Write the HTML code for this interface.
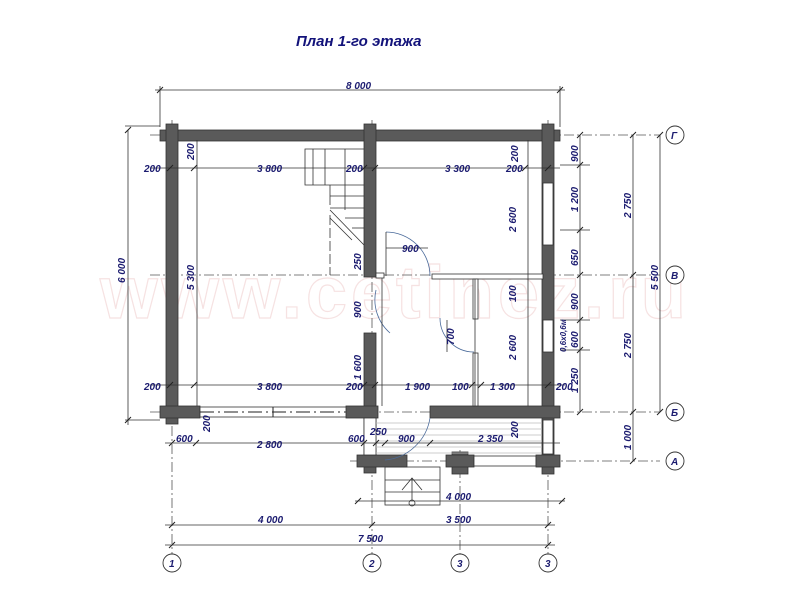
<!DOCTYPE html>
<html><head><meta charset="utf-8"><style>
html,body{margin:0;padding:0;background:#fff}
svg{display:block}
text{font-family:"Liberation Sans",sans-serif;font-style:italic;font-weight:bold;fill:#1c1c70;font-size:10px}
.d{stroke:#333;stroke-width:0.8;fill:none}
.w{fill:#5a5a5a;stroke:#333;stroke-width:0.8}
.ax{stroke:#555;stroke-width:0.8;stroke-dasharray:10 3 2 3;fill:none}
.t{stroke:#222;stroke-width:1}
</style></head><body>
<svg width="796" height="600" viewBox="0 0 796 600" xmlns="http://www.w3.org/2000/svg">
<rect width="796" height="600" fill="#fff"/>
<text x="100" y="318" style="font-size:74px;font-style:normal;font-weight:bold;fill:none;stroke:#f6e2e2;stroke-width:1.2;letter-spacing:4px" textLength="590">www.cetinez.ru</text>
<text x="296" y="46" style="font-size:15px;fill:#12127a">План 1-го этажа</text>

<!-- axes -->
<line class="ax" x1="150" y1="135" x2="660" y2="135"/>
<line class="ax" x1="150" y1="275" x2="660" y2="275"/>
<line class="ax" x1="150" y1="412" x2="660" y2="412"/>
<line class="ax" x1="350" y1="461" x2="660" y2="461"/>
<line class="ax" x1="172" y1="120" x2="172" y2="555"/>
<line class="ax" x1="372" y1="120" x2="372" y2="555"/>
<line class="ax" x1="460" y1="450" x2="460" y2="555"/>
<line class="ax" x1="548" y1="120" x2="548" y2="555"/>

<!-- walls -->
<rect class="w" x="160" y="130" width="400" height="11"/>
<rect class="w" x="166" y="124" width="12" height="300"/>
<rect class="w" x="542" y="124" width="12" height="350"/>
<rect class="w" x="364" y="124" width="12" height="153"/>
<rect class="w" x="364" y="333" width="12" height="140"/>
<rect class="w" x="160" y="406" width="40" height="12"/>
<rect x="200" y="407" width="160" height="10" fill="#fff" stroke="#333" stroke-width="0.8"/>
<line class="t" x1="200" y1="412" x2="360" y2="412" stroke-dasharray="14 4 2 4"/>
<line class="t" x1="273" y1="407" x2="273" y2="417"/>
<rect class="w" x="346" y="406" width="32" height="12"/>
<rect class="w" x="430" y="406" width="130" height="12"/>
<rect class="w" x="357" y="455" width="50" height="12"/>
<rect class="w" x="452" y="452" width="16" height="22"/>
<rect class="w" x="446" y="455" width="28" height="12"/>
<rect x="474" y="456" width="62" height="10" fill="#fff" stroke="#333" stroke-width="0.8"/>
<rect class="w" x="536" y="455" width="24" height="12"/>
<!-- right wall windows -->
<rect x="543" y="183" width="10" height="62" fill="#fff" stroke="#333" stroke-width="0.8"/>
<rect x="543" y="320" width="10" height="32" fill="#fff" stroke="#333" stroke-width="0.8"/>
<rect x="543" y="420" width="10" height="34" fill="#fff" stroke="#333" stroke-width="0.8"/>
<rect x="364" y="418" width="12" height="37" fill="#fff" stroke="#333" stroke-width="0.8"/>
<!-- porch floor lines -->
<g stroke="#bbb" stroke-width="0.7">
<line x1="376" y1="423" x2="542" y2="423"/><line x1="376" y1="429" x2="542" y2="429"/>
<line x1="376" y1="435" x2="542" y2="435"/><line x1="376" y1="441" x2="542" y2="441"/>
<line x1="376" y1="447" x2="542" y2="447"/><line x1="376" y1="453" x2="542" y2="453"/>
</g>
<!-- porch steps -->
<rect x="385" y="467" width="55" height="38" fill="#fff" class="d"/>
<line class="d" x1="385" y1="480" x2="440" y2="480"/><line class="d" x1="385" y1="492" x2="440" y2="492"/>
<polyline class="d" points="402,490 412,478 422,490"/><line class="d" x1="412" y1="478" x2="412" y2="500"/>
<circle class="d" cx="412" cy="503" r="3"/>
<!-- stairs -->
<g class="d">
<polyline points="330,185 305,185 305,149 364,149"/>
<line x1="313" y1="149" x2="313" y2="185"/><line x1="325" y1="149" x2="325" y2="185"/>
<line x1="330" y1="185" x2="330" y2="205"/>
<line x1="330" y1="185" x2="364" y2="185"/><line x1="330" y1="196" x2="364" y2="196"/>
<line x1="330" y1="208" x2="364" y2="208"/><line x1="345" y1="218" x2="364" y2="218"/>
<line x1="352" y1="228" x2="364" y2="228"/><line x1="330" y1="210" x2="364" y2="245"/>
<line x1="330" y1="218" x2="352" y2="240"/>
<line x1="330" y1="215" x2="330" y2="275" stroke-dasharray="10 3"/>
<line x1="345" y1="149" x2="345" y2="210"/>
</g>
<!-- partitions -->
<rect x="432" y="274" width="111" height="5" fill="#fff" stroke="#333" stroke-width="0.8"/>
<rect x="473" y="279" width="5" height="40" fill="#fff" stroke="#333" stroke-width="0.8"/>
<rect x="473" y="353" width="5" height="53" fill="#fff" stroke="#333" stroke-width="0.8"/>
<rect x="376" y="273" width="8" height="5" fill="#fff" stroke="#333" stroke-width="0.8"/>
<!-- doors -->
<path d="M386 232 A44 44 0 0 1 430 276" fill="none" stroke="#4a6a9a" stroke-width="0.8"/>
<line x1="386" y1="232" x2="386" y2="276" stroke="#333" stroke-width="0.8"/>
<path d="M440 318 A34 34 0 0 0 474 352" fill="none" stroke="#4a6a9a" stroke-width="0.8"/>
<path d="M376 290 A44 44 0 0 0 390 333" fill="none" stroke="#4a6a9a" stroke-width="0.8"/>
<path d="M430 418 A50 50 0 0 1 385 460" fill="none" stroke="#4a6a9a" stroke-width="0.8"/>

<!-- dimension lines -->
<g class="d">
<line x1="155" y1="90" x2="565" y2="90"/><line x1="160" y1="86" x2="160" y2="127"/><line x1="560" y1="86" x2="560" y2="127"/>
<line x1="128" y1="130" x2="128" y2="425"/><line x1="125" y1="126" x2="160" y2="126"/><line x1="125" y1="420" x2="160" y2="420"/>
<line x1="197" y1="140" x2="197" y2="406"/>
<line x1="150" y1="168" x2="560" y2="168"/>
<line x1="150" y1="385" x2="565" y2="385"/>
<line x1="165" y1="443" x2="560" y2="443"/>
<line x1="355" y1="501" x2="565" y2="501"/>
<line x1="165" y1="525" x2="555" y2="525"/>
<line x1="165" y1="545" x2="555" y2="545"/>
<line x1="580" y1="135" x2="580" y2="412"/>
<line x1="633" y1="135" x2="633" y2="461"/>
<line x1="660" y1="135" x2="660" y2="412"/>
<line x1="528" y1="140" x2="528" y2="406"/>
<line x1="475" y1="279" x2="475" y2="406"/>
<line x1="382" y1="278" x2="382" y2="406"/>
<line x1="428" y1="248" x2="386" y2="248"/>
<line x1="447" y1="320" x2="447" y2="352"/>
<line x1="560" y1="165" x2="590" y2="165"/><line x1="560" y1="230" x2="590" y2="230"/>
<line x1="560" y1="320" x2="590" y2="320"/><line x1="560" y1="350" x2="590" y2="350"/>
</g>
<!-- ticks -->
<g stroke="#222" stroke-width="1">
<path d="M157 93l6-6M557 93l6-6M125 133l6-6M125 423l6-6M167 171l6-6M191 171l6-6M361 171l6-6M372 171l6-6M522 171l6-6M545 171l6-6
M167 388l6-6M191 388l6-6M361 388l6-6M372 388l6-6M469 388l6-6M478 388l6-6M545 388l6-6
M169 446l6-6M193 446l6-6M361 446l6-6M373 446l6-6M382 446l6-6M427 446l6-6
M355 504l6-6M559 504l6-6M169 528l6-6M369 528l6-6M545 528l6-6M169 548l6-6M545 548l6-6
M577 138l6-6M577 168l6-6M577 233l6-6M577 278l6-6M577 323l6-6M577 353l6-6M577 415l6-6
M630 138l6-6M630 278l6-6M630 415l6-6M630 464l6-6M657 138l6-6M657 415l6-6"/>
</g>

<!-- axis circles -->
<g fill="#fff" stroke="#333" stroke-width="0.9">
<circle cx="675" cy="135" r="9"/><circle cx="675" cy="275" r="9"/><circle cx="675" cy="412" r="9"/><circle cx="675" cy="461" r="9"/>
<circle cx="172" cy="563" r="9"/><circle cx="372" cy="563" r="9"/><circle cx="460" cy="563" r="9"/><circle cx="548" cy="563" r="9"/>
</g>
<g style="font-size:11px">
<text x="671" y="139">Г</text><text x="671" y="279">В</text><text x="671" y="416">Б</text><text x="671" y="465">А</text>
<text x="169" y="567">1</text><text x="369" y="567">2</text><text x="457" y="567">3</text><text x="545" y="567">3</text>
</g>

<!-- labels -->
<text x="346" y="89">8 000</text>
<text x="144" y="172">200</text><text x="257" y="172">3 800</text><text x="346" y="172">200</text><text x="445" y="172">3 300</text><text x="506" y="172">200</text>
<text x="144" y="390">200</text><text x="257" y="390">3 800</text><text x="346" y="390">200</text><text x="405" y="390">1 900</text><text x="452" y="390">100</text><text x="490" y="390">1 300</text><text x="556" y="390">200</text>
<text x="176" y="442">600</text><text x="257" y="448">2 800</text><text x="348" y="442">600</text><text x="370" y="435">250</text><text x="398" y="442">900</text><text x="478" y="442">2 350</text>
<text x="446" y="500">4 000</text><text x="258" y="523">4 000</text><text x="446" y="523">3 500</text><text x="358" y="542">7 500</text>
<text x="402" y="252">900</text>
<g>
<text transform="translate(125,283) rotate(-90)">6 000</text>
<text transform="translate(194,290) rotate(-90)">5 300</text>
<text transform="translate(194,160) rotate(-90)">200</text>
<text transform="translate(361,270) rotate(-90)">250</text>
<text transform="translate(361,318) rotate(-90)">900</text>
<text transform="translate(361,380) rotate(-90)">1 600</text>
<text transform="translate(516,232) rotate(-90)">2 600</text>
<text transform="translate(516,302) rotate(-90)">100</text>
<text transform="translate(516,360) rotate(-90)">2 600</text>
<text transform="translate(454,345) rotate(-90)">700</text>
<text transform="translate(518,162) rotate(-90)">200</text>
<text transform="translate(518,438) rotate(-90)">200</text>
<text transform="translate(210,432) rotate(-90)">200</text>
<text transform="translate(578,162) rotate(-90)">900</text>
<text transform="translate(578,212) rotate(-90)">1 200</text>
<text transform="translate(578,266) rotate(-90)">650</text>
<text transform="translate(578,310) rotate(-90)">900</text>
<text transform="translate(578,348) rotate(-90)">600</text>
<text transform="translate(578,393) rotate(-90)">1 250</text>
<text transform="translate(631,218) rotate(-90)">2 750</text>
<text transform="translate(631,358) rotate(-90)">2 750</text>
<text transform="translate(631,450) rotate(-90)">1 000</text>
<text transform="translate(658,290) rotate(-90)">5 500</text>
<text transform="translate(566,352) rotate(-90)" style="font-size:8px">0,6х0,6м</text>
</g>
</svg>
</body></html>
